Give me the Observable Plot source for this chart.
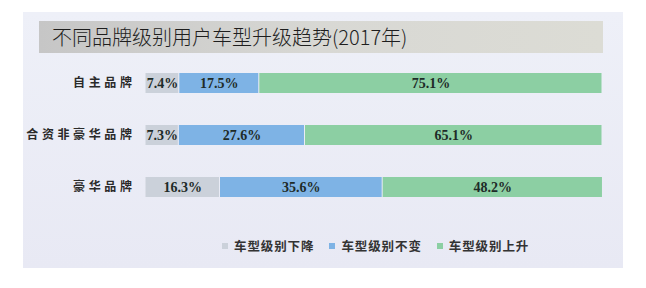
<!DOCTYPE html>
<html>
<head>
<meta charset="utf-8">
<script src="https://cdn.jsdelivr.net/npm/d3@7"></script>
<script src="https://cdn.jsdelivr.net/npm/@observablehq/plot@0.6"></script>
<style>
  html, body { margin: 0; padding: 0; background: #ffffff; }
  #wrap { position: relative; width: 646px; height: 288px; overflow: hidden; font-family: "Noto Sans CJK SC", "Noto Sans", sans-serif; }
  #panel { position: absolute; left: 23px; top: 12px; width: 600px; height: 256px;
           background: linear-gradient(#eef0f8, #e8e9f4); }
  #titlebar { position: absolute; left: 39px; top: 21px; width: 564px; height: 32px;
              background: linear-gradient(90deg, #c6c6c6, #d8d8d4 50%, #dcdcd5); }
  #title { position: absolute; left: 52px; top: 21px; height: 32px; line-height: 32px;
           font-size: 20px; font-weight: 300; color: #1e1e1e; white-space: nowrap; letter-spacing: 0px; }
  #chart { position: absolute; left: 0; top: 57px; }
  #legend { position: absolute; left: 222px; top: 236px; display: flex; gap: 0; font-size: 12.5px;
            font-weight: bold; color: #333; white-space: nowrap; letter-spacing: 0.9px; }
  .item { display: flex; align-items: center; margin-right: 15px; }
  .sw { width: 6px; height: 6px; margin-right: 6px; }
</style>
</head>
<body>
<div id="wrap">
  <div id="panel"></div>
  <div id="titlebar"></div>
  <div id="title">不同品牌级别用户车型升级趋势(2017年)</div>
  <div id="chart"></div>
  <div id="legend"></div>
</div>
<script>
const brands = ["自主品牌", "合资非豪华品牌", "豪华品牌"];
const seriesNames = ["车型级别下降", "车型级别不变", "车型级别上升"];
const downValues = [7.4, 7.3, 16.3];
const sameValues = [17.5, 27.6, 35.6];
const upValues = [75.1, 65.1, 48.2];
const colors = ["#cbd1da", "#7eb3e5", "#8ccfa3"];

const seriesValues = [downValues, sameValues, upValues];
const rows = [];
seriesNames.forEach((s, si) => {
  brands.forEach((b, bi) => {
    rows.push({brand: b, series: s, value: seriesValues[si][bi]});
  });
});

const chart = Plot.plot({
  width: 646,
  height: 156,
  marginLeft: 145,
  marginRight: 44,
  marginTop: 0,
  marginBottom: 0,
  style: {background: "transparent", overflow: "visible"},
  x: {domain: [0, 100], axis: null},
  y: {domain: brands, padding: 0, label: null},
  color: {domain: seriesNames, range: colors},
  marks: [
    Plot.barX(rows, {
      x: "value", y: "brand", fill: "series",
      order: seriesNames,
      insetTop: 16, insetBottom: 16, insetLeft: 0.5, insetRight: 0.5
    }),
    Plot.text(rows, Plot.stackX({
      x: "value", y: "brand", z: "series",
      order: seriesNames,
      text: d => d.value.toFixed(1) + "%",
      fontFamily: "Liberation Serif, serif",
      fontWeight: "bold",
      fontSize: 14,
      fill: "#1e2b28"
    })),
    Plot.axisY({
      tickSize: 0, tickPadding: 10, label: null,
      fontSize: 12, fontWeight: "bold", fill: "#2a2a2a",
      fontFamily: "Noto Sans CJK SC, sans-serif"
    })
  ]
});
chart.querySelectorAll("g[aria-label='y-axis tick label'] text").forEach(t => t.setAttribute("letter-spacing", "3.6"));
document.getElementById("chart").appendChild(chart);

const legend = document.getElementById("legend");
seriesNames.forEach((s, i) => {
  const it = document.createElement("div");
  it.className = "item";
  const sw = document.createElement("span");
  sw.className = "sw";
  sw.style.background = colors[i];
  const tx = document.createElement("span");
  tx.textContent = s;
  it.appendChild(sw);
  it.appendChild(tx);
  legend.appendChild(it);
});
</script>
</body>
</html>
